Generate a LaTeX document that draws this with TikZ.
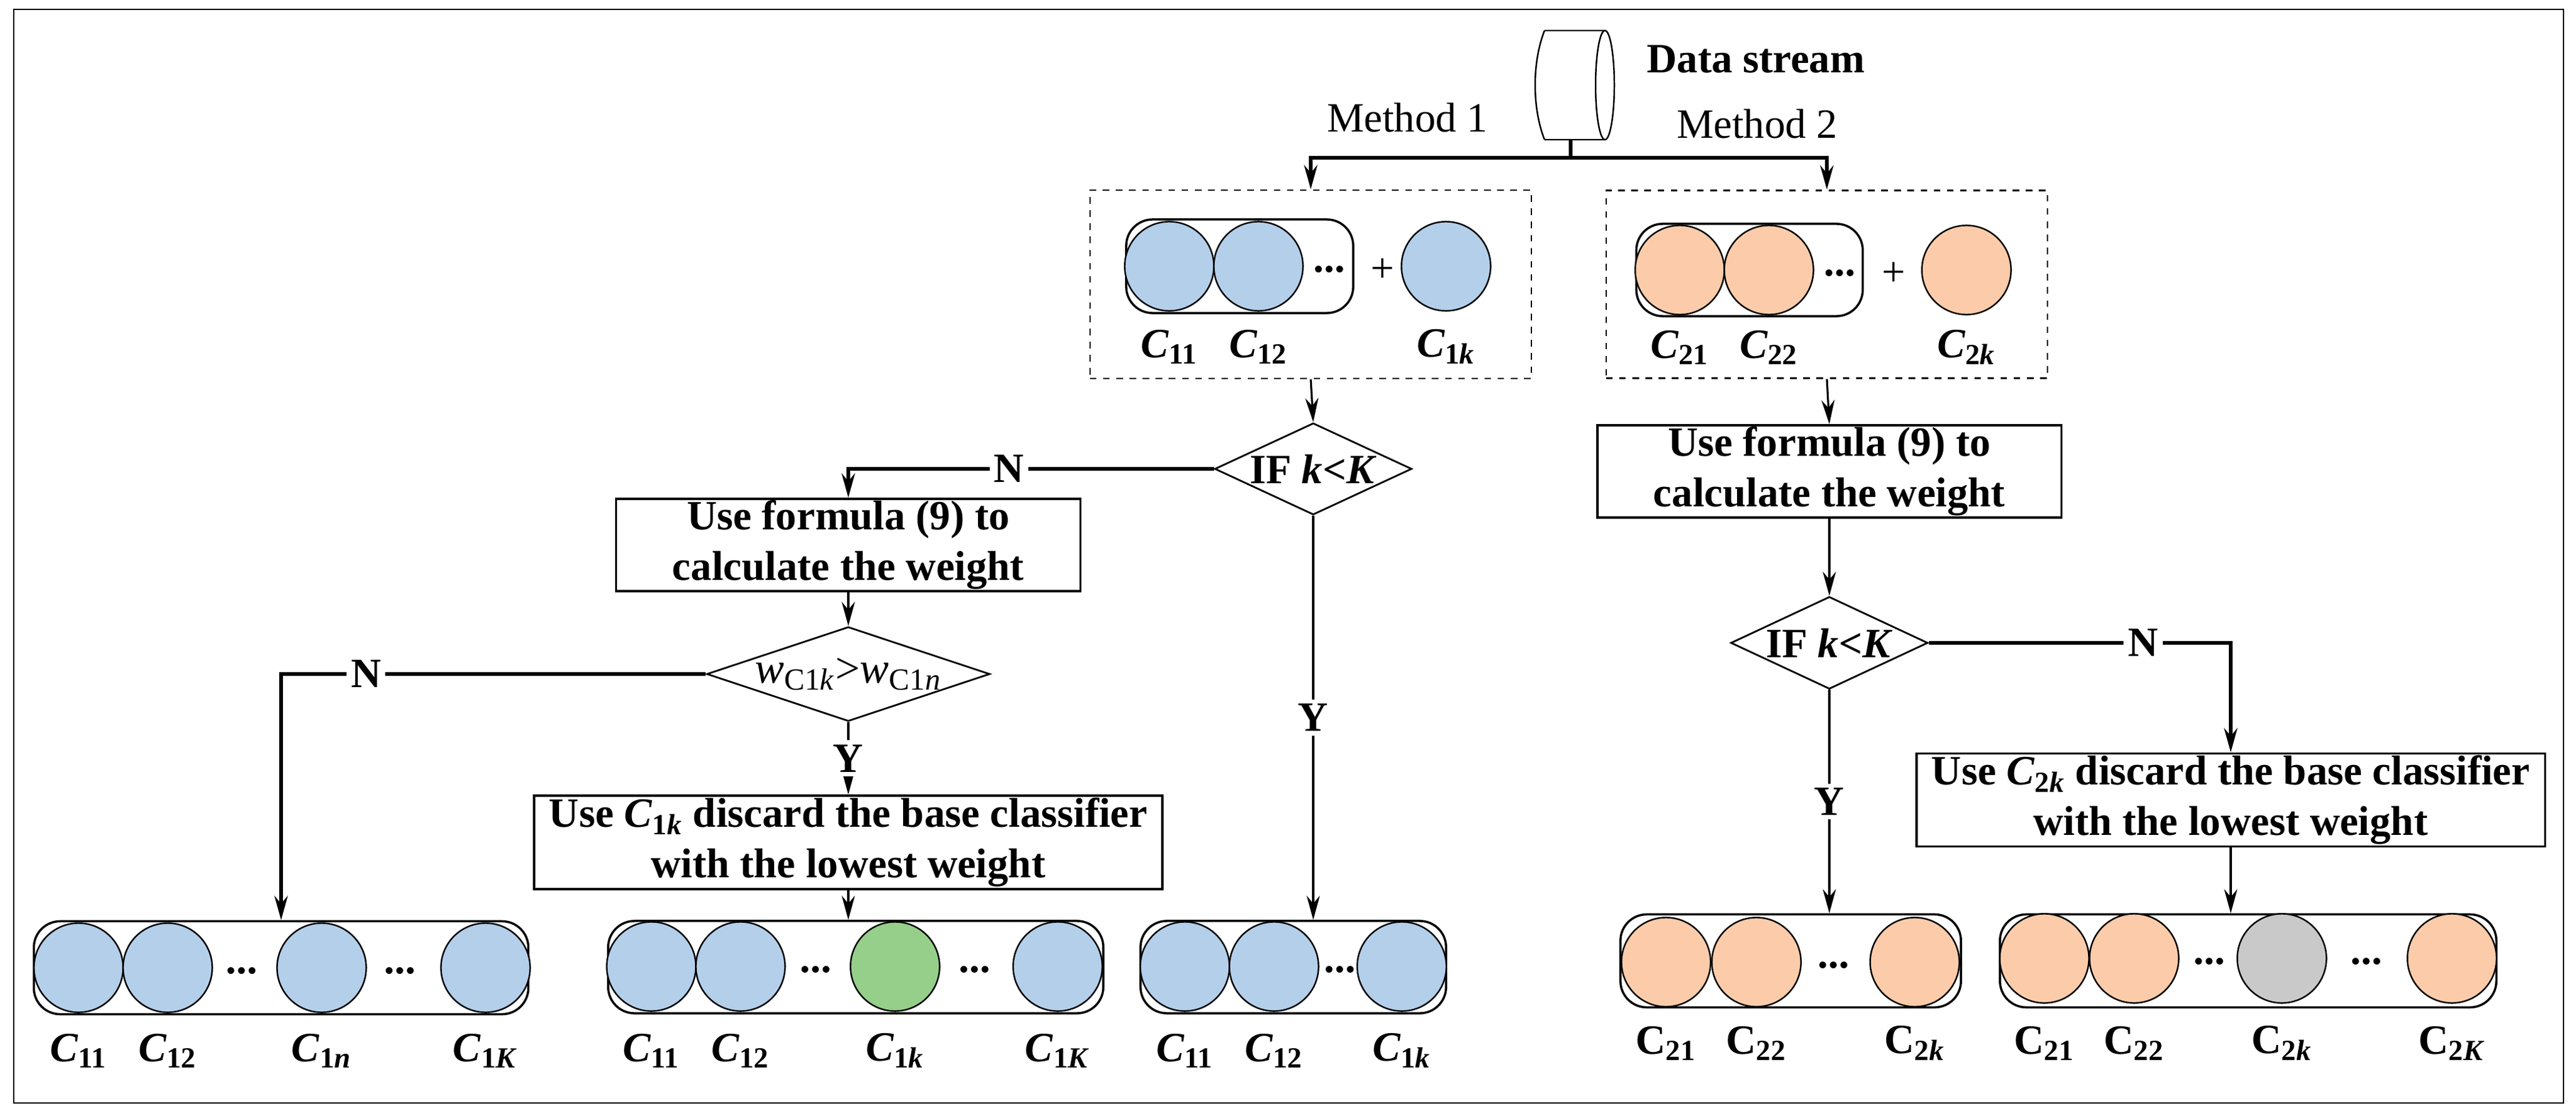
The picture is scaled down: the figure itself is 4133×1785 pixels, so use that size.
\documentclass[tikz,border=0pt]{standalone}
\usepackage{fontspec}
\setmainfont{Liberation Serif}
\usepackage{tikz}
\usetikzlibrary{shapes.geometric,arrows.meta,positioning}

\definecolor{cblue}{HTML}{B4CFEA}
\definecolor{corange}{HTML}{FCCCAA}
\definecolor{cgreen}{HTML}{95CF8A}
\definecolor{cgray}{HTML}{C9C9C9}
\newcommand{\Ci}[1]{\textit{C}\textsubscript{#1}}
\newcommand{\Cu}[1]{C\textsubscript{#1}}

\tikzset{
    cls/.style={circle,draw,line width=0.7pt,minimum size=1.43cm,inner sep=0pt},
    grp/.style={draw,rounded corners=12pt,line width=1pt,inner sep=0pt},
    box/.style={draw,line width=1pt,inner sep=0pt,align=center},
    dbox/.style={draw,dashed,line width=0.7pt,inner sep=0pt},
    dec/.style={diamond,draw,line width=0.8pt,inner sep=0pt},
    lin/.style={line width=0.9pt,-{Stealth[length=11pt,width=6pt]}},
    tlin/.style={line width=1.8pt,-{Stealth[length=11pt,width=6pt]}},
    yn/.style={fill=white,inner sep=2pt}
}

\begin{document}
\begin{tikzpicture}[x=0.01cm,y=-0.01cm,font=\fontsize{19}{23}\selectfont\bfseries]
        \useasboundingbox (0,0) rectangle (4133,1785);
        \draw[line width=0.8pt] (22,15) rectangle (4113,1769);
        % data stream
        \draw[line width=0.7pt] (2478,49) -- (2575,49) (2478,224) -- (2575,224)
            (2478,49) .. controls (2458,100) and (2458,173) .. (2478,224);
        \draw[line width=0.7pt] (2575,136.5) ellipse [x radius=15,y radius=87.5];
        \coordinate (ds) at (2520,224);
        \node[anchor=west] (dst) at (2630,95) {Data stream};
        \node[font=\fontsize{19}{23}\selectfont] (m1) at (2258,189) {Method 1};
        \node[font=\fontsize{19}{23}\selectfont] (m2) at (2819,199) {Method 2};
        % method boxes
        \node[dbox,minimum width=7.08cm,minimum height=3.02cm] (d1) at (2103,456) {};
        \node[dbox,minimum width=7.08cm,minimum height=3.01cm] (d2) at (2931,456) {};
        \node[grp,minimum width=3.64cm,minimum height=1.5cm] (b1) at (1989,427) {};
        \node[grp,minimum width=3.63cm,minimum height=1.48cm] (b2) at (2807,433) {};
        \foreach \x/\s in {1876/11,2019/12,2320/1\textit{k}}{
            \node[cls,fill=cblue] at (\x,427) {};
            \node at (\x,556) {\Ci{\s}};}
        \foreach \x/\s in {2695/21,2838/22,3155/2\textit{k}}{
            \node[cls,fill=corange] at (\x,433) {};
            \node at (\x,557) {\Ci{\s}};}
        \node at (2133,432) {...};
        \node at (2952,438) {...};
        \node[font=\fontsize{19}{23}\selectfont] at (2218,434) {+};
        \node[font=\fontsize{19}{23}\selectfont] at (3038,440) {+};
        % decisions and steps
        \node[dec,aspect=2.15,minimum width=3.16cm,minimum height=1.47cm] (k1) at (2107,752) {IF \textit{k}<\textit{K}};
        \node[box,minimum width=7.45cm,minimum height=1.48cm] (f1) at (1361,874) {Use formula (9) to\\calculate the weight};
        \node[dec,aspect=3,minimum width=4.41cm,minimum height=1.47cm,font=\fontsize{20}{23}\selectfont] (k2) at (1361,1081) {\textit{w}\textsubscript{C1\textit{k}}>\textit{w}\textsubscript{C1\textit{n}}};
        \node[box,minimum width=10.07cm,minimum height=1.5cm] (dc1) at (1361,1351) {Use \Ci{1\textit{k}} discard the base classifier\\with the lowest weight};
        \node[box,minimum width=7.44cm,minimum height=1.48cm] (f2) at (2935,756) {Use formula (9) to\\calculate the weight};
        \node[dec,aspect=2.15,minimum width=3.16cm,minimum height=1.48cm] (k3) at (2935,1031) {IF \textit{k}<\textit{K}};
        \node[box,minimum width=10.08cm,minimum height=1.49cm] (dc2) at (3579,1283) {Use \Ci{2\textit{k}} discard the base classifier\\with the lowest weight};
        % result groups
        \node[grp,minimum width=7.93cm,minimum height=1.49cm] (g1) at (451,1552) {};
        \node[grp,minimum width=7.94cm,minimum height=1.48cm] (g2) at (1373,1551) {};
        \node[grp,minimum width=4.90cm,minimum height=1.48cm] (g3) at (2075,1551) {};
        \node[grp,minimum width=5.46cm,minimum height=1.49cm] (g4) at (2873,1541) {};
        \node[grp,minimum width=7.96cm,minimum height=1.49cm] (g5) at (3607,1541) {};
        \foreach \x/\s in {126/11,269/12,516/1\textit{n},779/1\textit{K}}{
            \node[cls,fill=cblue] at (\x,1552) {};
            \node at (\x,1685) {\Ci{\s}};}
        \foreach \x/\s/\c in {1045/11/cblue,1188/12/cblue,1436/1\textit{k}/cgreen,1697/1\textit{K}/cblue}{
            \node[cls,fill=\c] at (\x,1550) {};
            \node at (\x,1685) {\Ci{\s}};}
        \foreach \x/\s in {1901/11,2044/12,2249/1\textit{k}}{
            \node[cls,fill=cblue] at (\x,1550) {};
            \node at (\x,1685) {\Ci{\s}};}
        \foreach \x/\s in {2673/21,2818/22,3072/2\textit{k}}{
            \node[cls,fill=corange] at (\x,1543) {};
            \node at (\x,1673) {\Cu{\s}};}
        \foreach \x/\s/\c in {3280/21/corange,3424/22/corange,3661/2\textit{k}/cgray,3934/2\textit{K}/corange}{
            \node[cls,fill=\c] at (\x,1537) {};
            \node at (\x,1673) {\Cu{\s}};}
        \foreach \x/\y in {388/1557,642/1557,1309/1555,1564/1555,2150/1555,2942/1548,3545/1542,3797/1542}
            \node at (\x,\y) {...};
        % connectors
        \draw[line width=1.8pt] (ds) -- ++(0,29) coordinate (br);
        \draw[tlin] (br) -| (d1.north);
        \draw[tlin] (br) -| (d2.north);
        \draw[lin] (d1.south) -- (k1.north);
        \draw[tlin] (k1.west) -| node[yn,pos=0.28] {N} (f1.north);
        \draw[lin] (k1.south) -- node[yn] {Y} (k1.south |- g3.north);
        \draw[lin] (f1.south) -- (k2.north);
        \draw[tlin] (k2.west) -| node[yn,pos=0.4] {N} (g1.north);
        \draw[lin] (k2.south) -- node[yn] {Y} (dc1.north);
        \draw[lin] (dc1.south) -- (dc1.south |- g2.north);
        \draw[lin] (d2.south) -- (f2.north);
        \draw[lin] (f2.south) -- (k3.north);
        \draw[tlin] (k3.east) -| node[yn,pos=0.355] {N} (dc2.north);
        \draw[lin] (k3.south) -- node[yn] {Y} (k3.south |- g4.north);
        \draw[lin] (dc2.south) -- (dc2.south |- g5.north);
    \end{tikzpicture}
\end{document}
